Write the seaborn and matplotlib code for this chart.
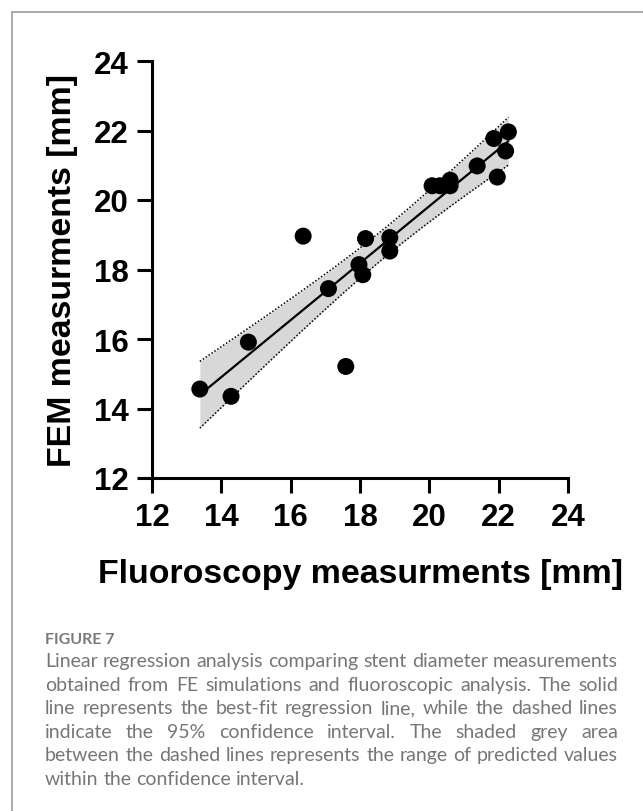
import numpy as np
import pandas as pd
import matplotlib
matplotlib.use("Agg")
import matplotlib.pyplot as plt
import seaborn as sns
from matplotlib.lines import Line2D

# ---------------- data ----------------
fluoro = [13.38, 14.28, 14.78, 16.36, 17.59, 17.09, 17.97, 18.08, 18.16, 18.86,
          18.86, 20.08, 20.31, 20.60, 20.60, 21.38, 21.96, 21.86, 22.20, 22.28]
fem = [14.56, 14.35, 15.91, 18.96, 15.21, 17.45, 18.14, 17.85, 18.89, 18.92,
       18.53, 20.41, 20.41, 20.57, 20.41, 20.98, 20.66, 21.77, 21.41, 21.96]
ticks = [12, 14, 16, 18, 20, 22, 24]
xlabel = "Fluoroscopy measurments [mm]"
ylabel = "FEM measurments [mm]"
fig_label = "FIGURE 7"
caption_lines = [
    "Linear regression analysis comparing stent diameter measurements",
    "obtained from FE simulations and fluoroscopic analysis. The solid",
    "line represents the best-fit regression line, while the dashed lines",
    "indicate the 95% confidence interval. The shaded grey area",
    "between the dashed lines represents the range of predicted values",
    "within the confidence interval.",
]
T_CRIT = 2.101  # t(0.975, df = n - 2 = 18)

df = pd.DataFrame({"Fluoroscopy": fluoro, "FEM": fem})

# ---------------- regression & 95% CI ----------------
x = df["Fluoroscopy"].to_numpy()
y = df["FEM"].to_numpy()
n = len(x)
slope, intercept = np.polyfit(x, y, 1)
xs = np.linspace(x.min(), x.max(), 200)
yhat = intercept + slope * xs
resid = y - (intercept + slope * x)
s_err = np.sqrt(np.sum(resid ** 2) / (n - 2))
sxx = np.sum((x - x.mean()) ** 2)
se = s_err * np.sqrt(1.0 / n + (xs - x.mean()) ** 2 / sxx)
lo = yhat - T_CRIT * se
hi = yhat + T_CRIT * se
fit = pd.DataFrame({"x": xs, "yhat": yhat, "lo": lo, "hi": hi})

# ---------------- figure ----------------
sns.set_style("ticks")
plt.rcParams["font.family"] = ["Liberation Sans", "DejaVu Sans"]

W, H = 643, 812
fig = plt.figure(figsize=(W / 100, H / 100), dpi=100)
ax = fig.add_axes([152 / W, 1 - 479 / H, 416 / W, 417 / H])

ax.fill_between(fit["x"], fit["lo"], fit["hi"], color="#d8d8d8", lw=0, zorder=1)
ax.plot(fit["x"], fit["lo"], color="black", lw=1.1, ls=(0, (1, 1.3)), zorder=2)
ax.plot(fit["x"], fit["hi"], color="black", lw=1.1, ls=(0, (1, 1.3)), zorder=2)
sns.lineplot(data=fit, x="x", y="yhat", color="black", lw=1.6, ax=ax, zorder=3)
sns.scatterplot(data=df, x="Fluoroscopy", y="FEM", s=150, color="black",
                edgecolor="none", ax=ax, zorder=4, clip_on=False)

ax.set_xlim(12, 24)
ax.set_ylim(12, 24)
ax.set_xticks(ticks)
ax.set_yticks(ticks)
ax.set_xticklabels([str(t) for t in ticks])
ax.set_yticklabels([str(t) for t in ticks])
for side in ["top", "right"]:
    ax.spines[side].set_visible(False)
for side in ["left", "bottom"]:
    ax.spines[side].set_linewidth(2.2)
    ax.spines[side].set_color("black")
ax.tick_params(axis="both", which="major", direction="out", length=11, width=2.2,
               color="black", labelsize=22.5, labelcolor="black",
               bottom=True, left=True, top=False, right=False)
ax.tick_params(axis="x", pad=6.5)
ax.tick_params(axis="y", pad=6)
for lab in ax.get_xticklabels() + ax.get_yticklabels():
    lab.set_fontweight("bold")

ax.set_xlabel(xlabel, fontsize=24.4, fontweight="bold", color="black")
ax.set_ylabel(ylabel, fontsize=24.4, fontweight="bold", color="black")
ax.xaxis.label.set_va("baseline")
ax.xaxis.set_label_coords(0.5, (479 - 583) / 417)
ax.yaxis.label.set_va("center")
ax.yaxis.label.set_ha("center")
ax.yaxis.set_label_coords((63 - 152) / 416, 0.5)

# ---------------- frame border ----------------
border_col = "#a3a3a3"
fig.add_artist(Line2D([12 / W, 1.01], [1 - 13 / H, 1 - 13 / H],
                      transform=fig.transFigure, color=border_col, lw=1.3))
fig.add_artist(Line2D([12 / W, 12 / W], [1 - 13 / H, -0.01],
                      transform=fig.transFigure, color=border_col, lw=1.3))

# ---------------- caption ----------------
cap_col = "#767676"
cap_font = ["Lato", "DejaVu Sans"]
cap_size = 14.0
fig.text(45 / W, 1 - 644 / H, fig_label, fontsize=11.5, fontweight="bold",
         color="#7a7a7a", family=cap_font, va="baseline", ha="left")

renderer = fig.canvas.get_renderer()


def text_width(t):
    return t.get_window_extent(renderer).width


probe1 = fig.text(0, 0, "a a", fontsize=cap_size, family=cap_font)
probe2 = fig.text(0, 0, "aa", fontsize=cap_size, family=cap_font)
space_w = text_width(probe1) - text_width(probe2)
probe1.remove()
probe2.remove()

left_px, right_px = 45, 618
base0, step = 667, 23.6
for i, line in enumerate(caption_lines):
    words = line.split(" ")
    yb = 1 - (base0 + i * step) / H
    arts = [fig.text(0, yb, w, fontsize=cap_size, family=cap_font,
                     color=cap_col, va="baseline", ha="left") for w in words]
    widths = [text_width(a) for a in arts]
    last = i == len(caption_lines) - 1
    if last or len(words) == 1:
        gap = space_w
    else:
        gap = (right_px - left_px - sum(widths)) / (len(words) - 1)
    xpos = left_px
    for a, w in zip(arts, widths):
        a.set_x(xpos / W)
        xpos += w + gap

fig.savefig("out.png", dpi=100)
